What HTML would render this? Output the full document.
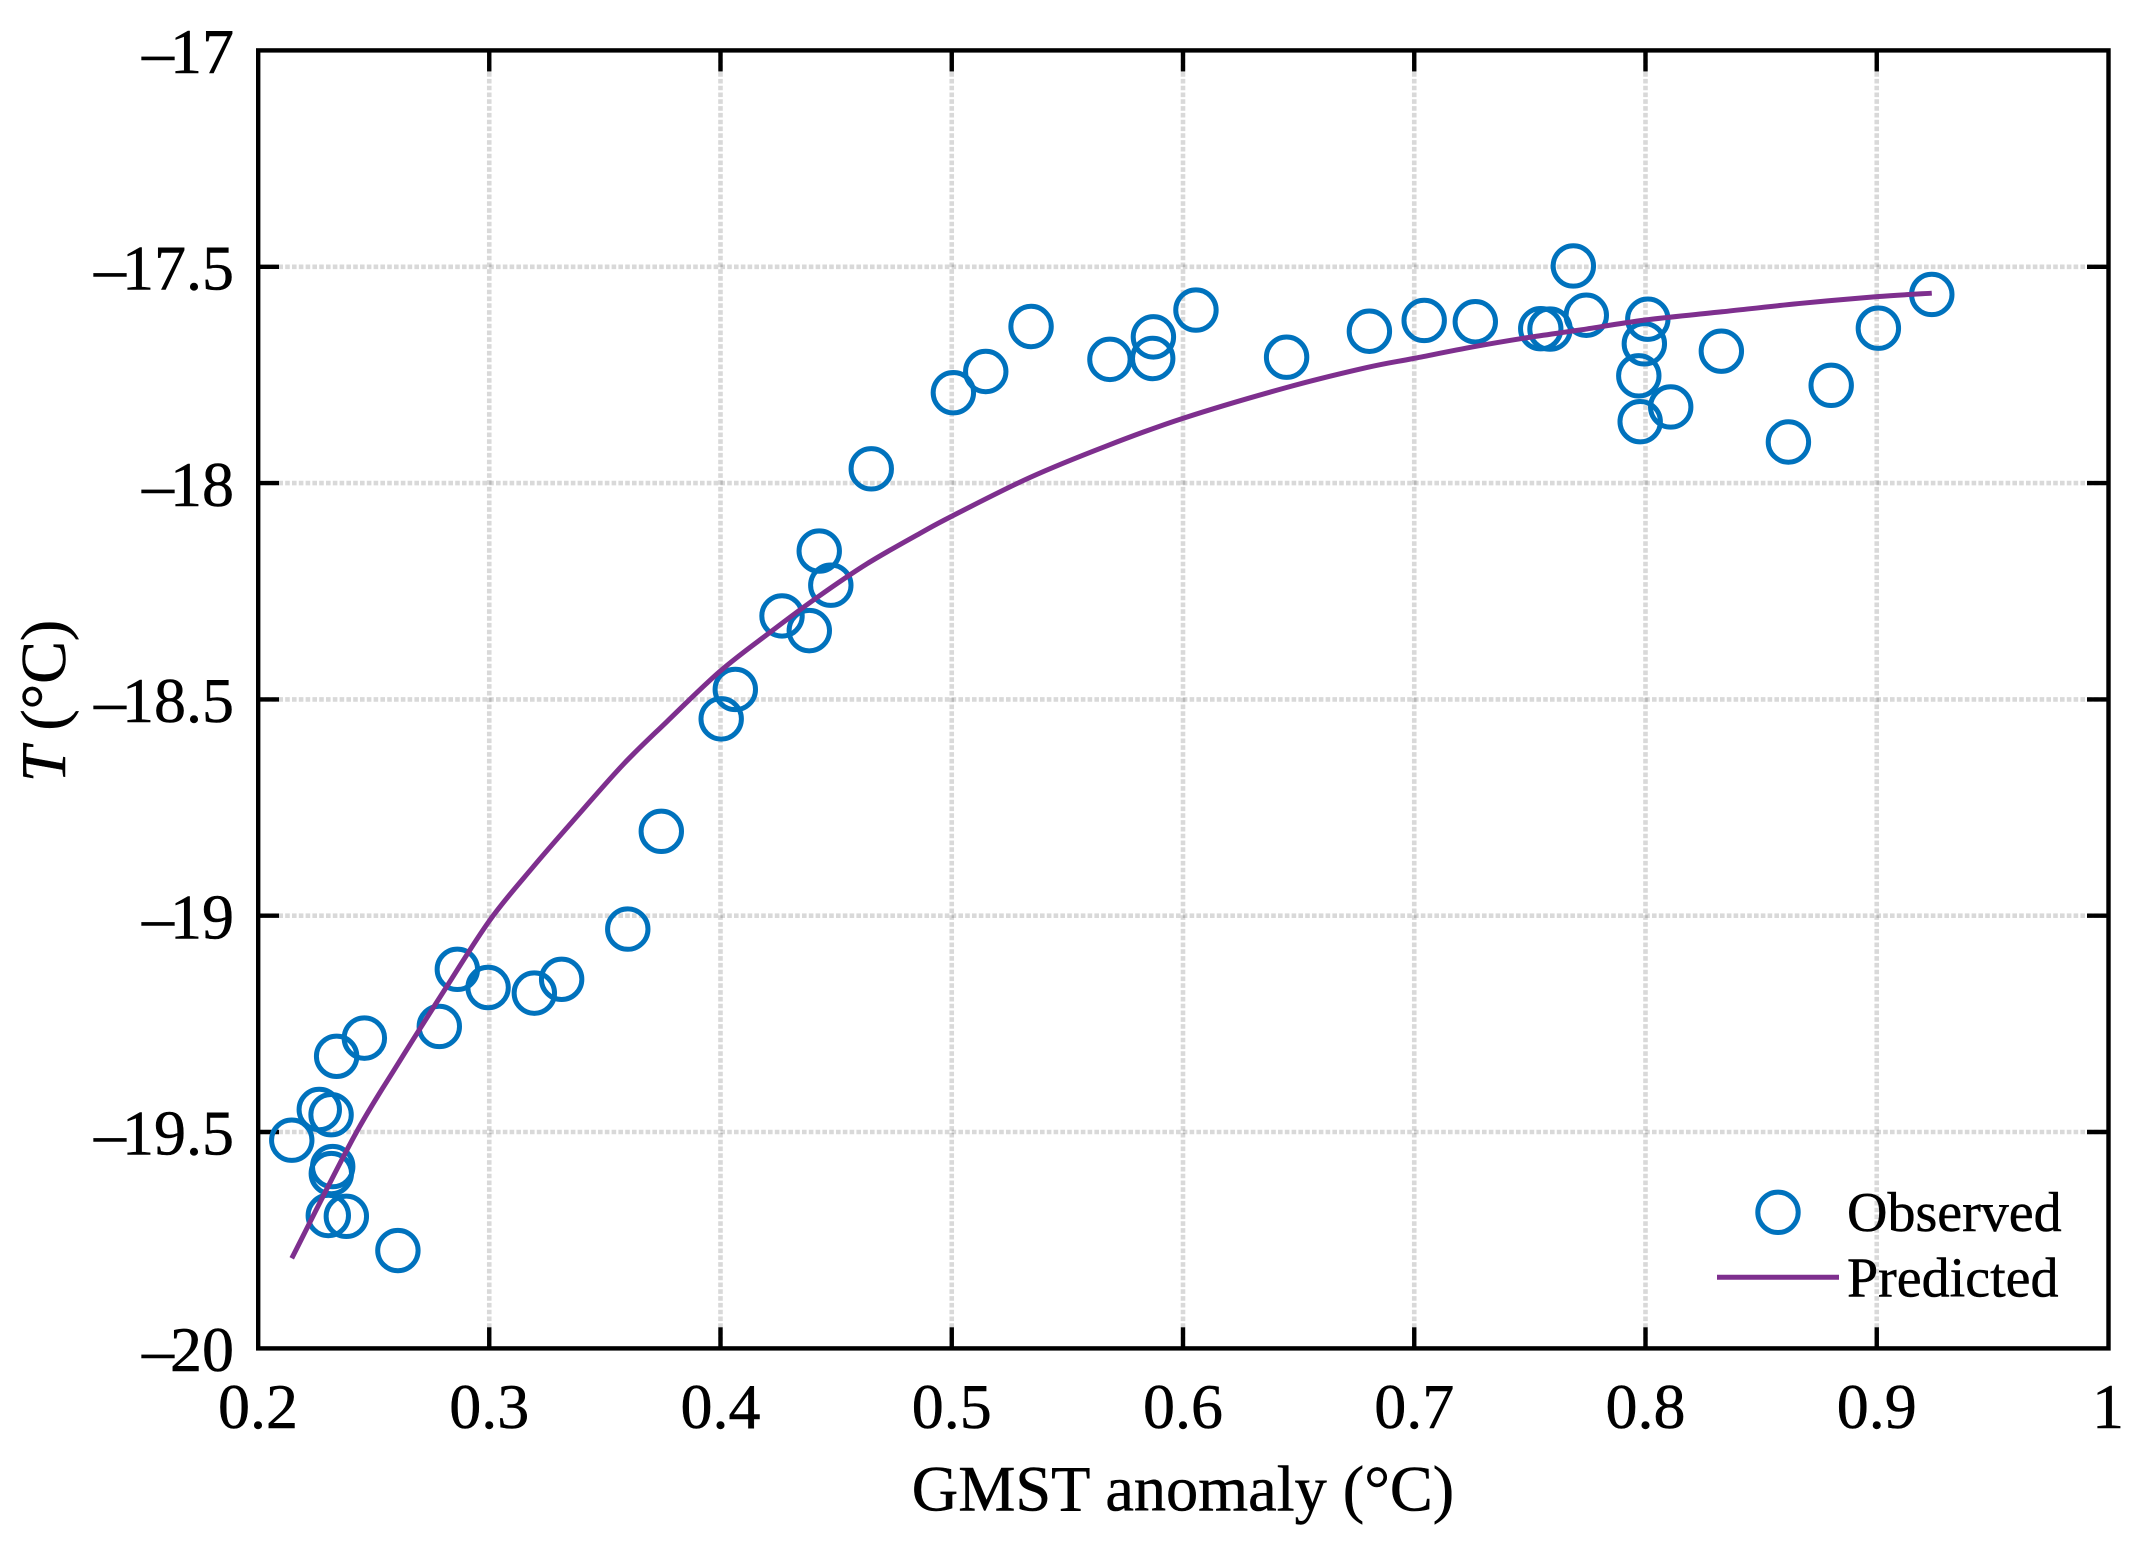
<!DOCTYPE html>
<html lang="en">
<head>
<meta charset="utf-8">
<title>GMST anomaly vs T</title>
<style>
html,body{margin:0;padding:0;background:#fff;}
svg{display:block;}
text{font-family:"Liberation Serif","Times New Roman",serif;fill:#000;stroke:#000;stroke-width:0.5;}
</style>
</head>
<body>
<svg id="chart" xmlns="http://www.w3.org/2000/svg" width="2132" height="1545" viewBox="0 0 2132 1545">
  <rect x="0" y="0" width="2132" height="1545" fill="#fff"/>
  <g id="grid"></g>
  <g id="ticks"></g>
  <g id="observed"></g>
  <path id="predicted" fill="none" stroke="#7E2F8E" stroke-width="5" stroke-linejoin="round"/>
  <rect x="258.2" y="50.4" width="1850.3" height="1298" fill="none" stroke="#000" stroke-width="4.4"/>
  <g id="x-labels"></g>
  <g id="y-labels"></g>
  <text x="1183" y="1510.5" font-size="64.3" text-anchor="middle">GMST anomaly (°C)</text>
  <text x="65" y="701" font-size="64" text-anchor="middle" transform="rotate(-90 65 701)"><tspan font-style="italic">T</tspan> (°C)</text>
  <g>
    <circle cx="1778" cy="1212.3" r="20.2" fill="none" stroke="#0072BD" stroke-width="5"/>
    <text x="1847" y="1231" font-size="56">Observed</text>
    <line x1="1717" y1="1277.3" x2="1839" y2="1277.3" stroke="#7E2F8E" stroke-width="5"/>
    <text x="1847" y="1296.7" font-size="56">Predicted</text>
  </g>
</svg>
<script>
const xTicks = [0.2, 0.3, 0.4, 0.5, 0.6, 0.7, 0.8, 0.9, 1];
const xTickLabels = ['0.2', '0.3', '0.4', '0.5', '0.6', '0.7', '0.8', '0.9', '1'];
const yTicks = [-17, -17.5, -18, -18.5, -19, -19.5, -20];
const yTickLabels = ['–17', '–17.5', '–18', '–18.5', '–19', '–19.5', '–20'];

const observedX = [0.2146, 0.2265, 0.2316, 0.2340, 0.2460, 0.2323, 0.2317, 0.2304, 0.2382, 0.2605,
  0.2784, 0.2862, 0.2995, 0.3195, 0.3313, 0.3599, 0.3744, 0.4003, 0.4064, 0.4266,
  0.4384, 0.4427, 0.4477, 0.4652, 0.5007, 0.5147, 0.5343, 0.5684, 0.5872, 0.5869,
  0.6056, 0.6448, 0.6806, 0.7043, 0.7264, 0.7547, 0.7587, 0.7688, 0.7744, 0.8010,
  0.7995, 0.7971, 0.7977, 0.8109, 0.8328, 0.8618, 0.8803, 0.9007, 0.9238];
const observedY = [-19.519, -19.448, -19.460, -19.325, -19.283, -19.580, -19.596, -19.693, -19.695, -19.774,
  -19.256, -19.124, -19.166, -19.179, -19.147, -19.031, -18.805, -18.545, -18.477, -18.307,
  -18.341, -18.157, -18.236, -17.967, -17.791, -17.742, -17.638, -17.714, -17.662, -17.712,
  -17.600, -17.709, -17.649, -17.624, -17.627, -17.643, -17.644, -17.498, -17.612, -17.621,
  -17.678, -17.752, -17.858, -17.824, -17.695, -17.905, -17.774, -17.642, -17.564];

const predictedX = [0.2146, 0.2416, 0.2607, 0.2816, 0.3003, 0.3190, 0.3385, 0.3580, 0.3767, 0.3998,
  0.4214, 0.4416, 0.4632, 0.4863, 0.5002, 0.5338, 0.5670, 0.6001, 0.6448, 0.6794,
  0.6996, 0.7255, 0.7486, 0.7717, 0.7999, 0.8331, 0.8662, 0.9001, 0.9238];
const predictedY = [-19.792, -19.51, -19.341, -19.164, -19.01, -18.887, -18.767, -18.65, -18.552, -18.435,
  -18.345, -18.265, -18.187, -18.116, -18.076, -17.987, -17.914, -17.850, -17.779, -17.733,
  -17.712, -17.685, -17.664, -17.646, -17.623, -17.604, -17.585, -17.569, -17.561];

const plotLeft = 258, plotRight = 2108, plotTop = 50.5, plotBottom = 1348.3;
const xMin = 0.2, xMax = 1, yMin = -20, yMax = -17;
const tickLength = 21;

function xScale(v) {
  return plotLeft + (v - xMin) / (xMax - xMin) * (plotRight - plotLeft);
}
function yScale(v) {
  return plotBottom - (v - yMin) / (yMax - yMin) * (plotBottom - plotTop);
}

const SVG_NS = 'http://www.w3.org/2000/svg';
function makeSvg(tag, parent, props) {
  const el = document.createElementNS(SVG_NS, tag);
  Object.keys(props).forEach(function (k) { el.setAttribute(k, props[k]); });
  parent.appendChild(el);
  return el;
}
const gridStyle = { stroke: '#000', 'stroke-opacity': 0.15, 'stroke-width': 4.6, 'stroke-dasharray': '4.6 2.2', fill: 'none' };
const tickStyle = { stroke: '#000', 'stroke-width': 4.4, fill: 'none' };

const gridGroup = document.getElementById('grid');
const tickGroup = document.getElementById('ticks');
const xLabelGroup = document.getElementById('x-labels');
const yLabelGroup = document.getElementById('y-labels');
const observedGroup = document.getElementById('observed');

xTicks.forEach(function (v, i) {
  const x = xScale(v);
  if (v > xMin && v < xMax) {
    const g = makeSvg('line', gridGroup, Object.assign({ x1: x, x2: x, y1: plotBottom, y2: plotTop }, gridStyle));
    
    
    const t1 = makeSvg('line', tickGroup, Object.assign({ x1: x, x2: x, y1: plotTop, y2: plotTop + tickLength }, tickStyle));
    
    
    const t2 = makeSvg('line', tickGroup, Object.assign({ x1: x, x2: x, y1: plotBottom, y2: plotBottom - tickLength }, tickStyle));
    
    
  }
  const label = makeSvg('text', xLabelGroup, { x: x, y: 1428, 'font-size': 64, 'text-anchor': 'middle' });
  label.textContent = xTickLabels[i];
  
  
});

yTicks.forEach(function (v, i) {
  const y = yScale(v);
  if (v > yMin && v < yMax) {
    const g = makeSvg('line', gridGroup, Object.assign({ x1: plotLeft, x2: plotRight, y1: y, y2: y }, gridStyle));
    
    
    const t1 = makeSvg('line', tickGroup, Object.assign({ x1: plotLeft, x2: plotLeft + tickLength, y1: y, y2: y }, tickStyle));
    
    
    const t2 = makeSvg('line', tickGroup, Object.assign({ x1: plotRight, x2: plotRight - tickLength, y1: y, y2: y }, tickStyle));
    
    
  }
  const label = makeSvg('text', yLabelGroup, { x: 234, y: y + 22.7, 'font-size': 64, 'text-anchor': 'end' });
  label.textContent = yTickLabels[i].charAt(0);
  const digits = makeSvg('tspan', label, { dx: -4 });
  digits.textContent = yTickLabels[i].slice(1);
  
  
});

observedX.forEach(function (v, i) {
  const c = makeSvg('circle', observedGroup, { cx: xScale(v), cy: yScale(observedY[i]), r: 20.2, fill: 'none', stroke: '#0072BD', 'stroke-width': 5 });
  
  
});

/* Smooth curve through the read points (Catmull-Rom segments as cubic Beziers). */
const linePts = predictedX.map(function (v, i) {
  return [xScale(v), yScale(predictedY[i])];
});
let linePath = 'M' + linePts[0][0].toFixed(2) + ' ' + linePts[0][1].toFixed(2);
for (let i = 0; i < linePts.length - 1; i++) {
  const p0 = linePts[Math.max(i - 1, 0)];
  const p1 = linePts[i];
  const p2 = linePts[i + 1];
  const p3 = linePts[Math.min(i + 2, linePts.length - 1)];
  const c1x = p1[0] + (p2[0] - p0[0]) / 6;
  const c1y = p1[1] + (p2[1] - p0[1]) / 6;
  const c2x = p2[0] - (p3[0] - p1[0]) / 6;
  const c2y = p2[1] - (p3[1] - p1[1]) / 6;
  linePath += ' C' + c1x.toFixed(2) + ' ' + c1y.toFixed(2) + ' ' + c2x.toFixed(2) + ' ' + c2y.toFixed(2) + ' ' + p2[0].toFixed(2) + ' ' + p2[1].toFixed(2);
}
document.getElementById('predicted').setAttribute('d', linePath);
</script>
</body>
</html>
